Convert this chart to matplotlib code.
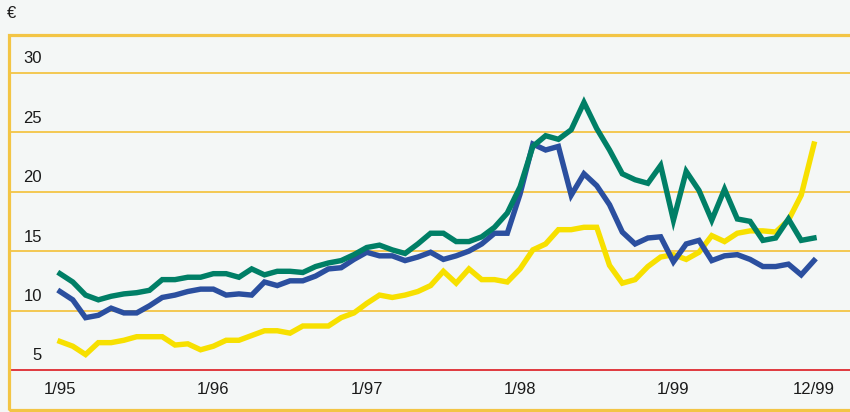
import matplotlib
matplotlib.use("Agg")
import matplotlib.pyplot as plt
from matplotlib.patches import Rectangle
from matplotlib.transforms import offset_copy

# Monthly series, January 1995 to December 1999 (EUR)
green = [13.1, 12.4, 11.3, 10.9, 11.2, 11.4, 11.5, 11.7, 12.6, 12.6, 12.8, 12.8,
         13.1, 13.1, 12.8, 13.5, 13.0, 13.3, 13.3, 13.2, 13.7, 14.0, 14.2, 14.7,
         15.3, 15.5, 15.1, 14.8, 15.6, 16.5, 16.5, 15.8, 15.8, 16.2, 17.0, 18.2,
         20.4, 23.8, 24.7, 24.4, 25.2, 27.5, 25.3, 23.5, 21.5, 21.0, 20.7, 22.2,
         17.6, 21.7, 20.1, 17.6, 20.2, 17.7, 17.5, 15.9, 16.1, 17.7, 15.9, 16.1]
blue = [11.6, 10.9, 9.4, 9.6, 10.2, 9.8, 9.8, 10.4, 11.1, 11.3, 11.6, 11.8,
        11.8, 11.3, 11.4, 11.3, 12.4, 12.1, 12.5, 12.5, 12.9, 13.5, 13.6, 14.3,
        14.9, 14.6, 14.6, 14.2, 14.5, 14.9, 14.3, 14.6, 15.0, 15.6, 16.5, 16.5,
        19.8, 24.0, 23.5, 23.8, 19.7, 21.5, 20.5, 18.9, 16.6, 15.6, 16.1, 16.2,
        14.1, 15.6, 15.9, 14.2, 14.6, 14.7, 14.3, 13.7, 13.7, 13.9, 13.0, 14.2]
yellow = [7.4, 7.0, 6.3, 7.3, 7.3, 7.5, 7.8, 7.8, 7.8, 7.1, 7.2, 6.7,
          7.0, 7.5, 7.5, 7.9, 8.3, 8.3, 8.1, 8.7, 8.7, 8.7, 9.4, 9.8,
          10.6, 11.3, 11.1, 11.3, 11.6, 12.1, 13.3, 12.3, 13.5, 12.6, 12.6, 12.4,
          13.5, 15.1, 15.6, 16.8, 16.8, 17.0, 17.0, 13.8, 12.3, 12.6, 13.7, 14.5,
          14.7, 14.3, 14.9, 16.3, 15.8, 16.5, 16.7, 16.7, 16.6, 17.6, 19.7, 24.0]

x_ticks = [0, 12, 24, 36, 48, 59]
x_labels = ["1/95", "1/96", "1/97", "1/98", "1/99", "12/99"]
y_levels = [5, 10, 15, 20, 25, 30]

BG = "#f4f7f6"
GOLD = "#f3c545"
FONT = ["Liberation Sans Narrow", "Liberation Sans", "DejaVu Sans"]

W, H = 850, 412
fig = plt.figure(figsize=(W / 100, H / 100), dpi=100, facecolor=BG)

# Gold frame around the plotting area
fig.patches.append(Rectangle((8.7 / W, 1 - 410 / H), 1.0, (410 - 34.5) / H,
                             transform=fig.transFigure, fill=False,
                             edgecolor=GOLD, linewidth=2.3, clip_on=False))

left_px, right_px = 11, 850
bottom_px, top_px = 370, 72.7
ax = fig.add_axes([left_px / W, 1 - bottom_px / H,
                   (right_px - left_px) / W, (bottom_px - top_px) / H])
ax.set_facecolor("none")

n = len(green)
px_per_month = (814 - 60) / (n - 1)
ax.set_xlim(-(60 - left_px) / px_per_month, (n - 1) + (right_px - 814) / px_per_month)
ax.set_ylim(5, 30)

for v in y_levels:
    if v == 5:
        ax.axhline(v, color="#e0393e", linewidth=1.4, zorder=1, clip_on=False)
    else:
        ax.axhline(v, color=GOLD, linewidth=1.3, zorder=1, clip_on=False)

months = list(range(n))
lw = 3.9
ax.plot(months, yellow, color="#f7e000", linewidth=lw, solid_joinstyle="miter", zorder=3, clip_on=False)
ax.plot(months, blue, color="#2b4f9f", linewidth=lw, solid_joinstyle="miter", zorder=4, clip_on=False)
ax.plot(months, green, color="#007f66", linewidth=lw, solid_joinstyle="miter", zorder=5, clip_on=False)

# Value labels sit just above their gridlines
lab_x = (42 - 60) / px_per_month
lab_tr = offset_copy(ax.transData, fig=fig, x=0, y=14, units="dots")
for v in y_levels:
    ax.text(lab_x, v, str(v), transform=lab_tr, ha="right", va="center",
            fontsize=12, family=FONT, color="#1a1a1a")

ax.set_xticks(x_ticks)
ax.set_xticklabels(x_labels, family=FONT, fontsize=12, color="#1a1a1a")
ax.tick_params(axis="x", length=0, pad=9)
ax.set_yticks([])
for s in ax.spines.values():
    s.set_visible(False)

fig.text(7 / W, 1 - 14 / H, "€", ha="left", va="center", fontsize=12,
         family=FONT, color="#1a1a1a")

fig.savefig("out.png", dpi=100, facecolor=BG)
